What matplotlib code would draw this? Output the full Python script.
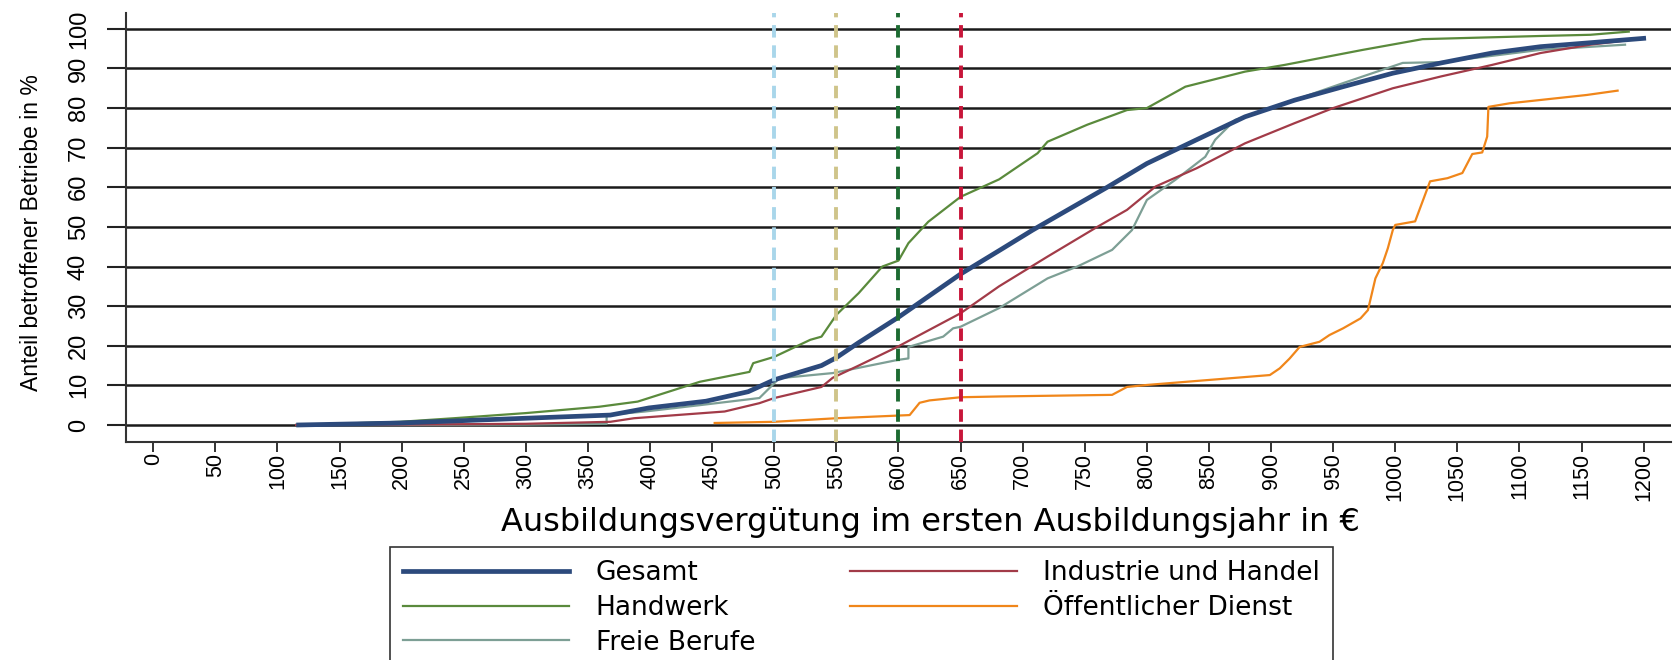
import matplotlib
matplotlib.use("Agg")
import matplotlib.pyplot as plt

# Werte (Ausbildungsvergütung in €, Anteil in %)
gesamt_x = [117, 199, 300, 368, 399, 445, 479, 500, 538, 550, 568, 600, 650, 682, 708, 768, 800, 840, 879, 919, 958, 998, 1037, 1078, 1117, 1157, 1200]
gesamt_y = [0, 0.5, 1.7, 2.5, 4.3, 6.0, 8.4, 11.4, 15.0, 17.0, 20.8, 27.2, 38.1, 44.2, 49.2, 60, 66, 72, 77.8, 82, 85.4, 88.8, 91.4, 93.9, 95.5, 96.5, 97.6]

handwerk_x = [115, 199, 242, 300, 359, 390, 415, 440, 480, 483, 500, 529, 538, 550, 568, 587, 600, 608, 624, 650, 681, 712, 720, 752, 784, 800, 831, 879, 911, 974, 1022, 1117, 1157, 1188]
handwerk_y = [0, 0.8, 1.7, 3, 4.6, 5.9, 8.4, 10.9, 13.4, 15.6, 17.2, 21.5, 22.3, 27.8, 33.3, 40, 41.5, 45.9, 51.3, 57.6, 62, 68.6, 71.5, 75.8, 79.5, 80, 85.4, 89.2, 90.9, 94.7, 97.4, 98.2, 98.5, 99.3]

industrie_x = [115, 199, 300, 368, 387, 460, 488, 500, 538, 547, 568, 599, 650, 681, 720, 760, 784, 807, 840, 879, 919, 950, 998, 1037, 1078, 1117, 1157, 1200]
industrie_y = [0, 0.1, 0.3, 0.8, 1.7, 3.4, 5.5, 6.8, 9.6, 11.9, 15.0, 19.7, 28.2, 35, 42.5, 50, 54.3, 60.2, 64.8, 71.1, 76.2, 80, 85, 88, 90.9, 93.9, 96, 97.6]

freie_x = [115, 199, 300, 365, 365, 396, 440, 488, 497, 504, 547, 599, 608, 608, 636, 644, 650, 681, 720, 744, 772, 788, 800, 823, 847, 855, 871, 903, 958, 1006, 1037, 1117, 1185]
freie_y = [0, 0, 0.1, 0.3, 2.5, 3.4, 5, 6.8, 9.6, 11.8, 13.1, 16.4, 16.8, 19.7, 22.3, 24.4, 24.8, 29.5, 37, 40, 44.2, 49.2, 56.8, 61.9, 67.7, 72, 77, 80.3, 86.3, 91.4, 91.6, 94.7, 96]

oeff_x = [452, 500, 550, 609, 617, 625, 650, 682, 772, 784, 800, 899, 907, 915, 923, 939, 947, 958, 972, 978, 984, 990, 994, 998, 1000, 1016, 1028, 1042, 1054, 1062, 1070, 1074, 1075, 1092, 1154, 1179]
oeff_y = [0.5, 0.8, 1.7, 2.5, 5.6, 6.2, 7.0, 7.2, 7.6, 9.6, 10.1, 12.6, 14.3, 16.8, 19.7, 21, 22.7, 24.4, 26.9, 29, 37, 40.9, 44.6, 49.2, 50.5, 51.4, 61.5, 62.3, 63.6, 68.4, 68.8, 72.8, 80.3, 81.2, 83.3, 84.4]

schwellen = [500, 550, 600, 650]
schwellen_farben = ["#a9d6ea", "#cfc48a", "#1d6b32", "#c8163a"]

x_ticks = list(range(0, 1201, 50))
y_ticks = list(range(0, 101, 10))

narrow = ["Liberation Sans", "DejaVu Sans"]

fig = plt.figure(figsize=(16.73, 6.6), dpi=100)
ax = fig.add_axes([0.0753, 0.3303, 0.9235, 0.65])

ax.set_xlim(-22, 1222)
ax.set_ylim(-4.3, 104)
ax.set_xticks(x_ticks)
ax.set_yticks(y_ticks)
ax.set_xticklabels([str(v) for v in x_ticks], rotation=90, family=narrow, fontsize=15.5)
ax.set_yticklabels([str(v) for v in y_ticks], rotation=90, va="center", family=narrow, fontsize=17)
ax.tick_params(axis="y", length=14, width=1.5, color="#222222", pad=12)
ax.tick_params(axis="x", length=7, width=1.3, color="#222222", pad=1)

for s in ["top", "right"]:
    ax.spines[s].set_visible(False)
ax.spines["left"].set_linewidth(1.5)
ax.spines["bottom"].set_linewidth(1.5)
ax.spines["left"].set_color("#333333")
ax.spines["bottom"].set_color("#333333")

ax.yaxis.grid(True, color="#1a1a1a", linewidth=1.8)
ax.set_axisbelow(True)

ax.plot(gesamt_x, gesamt_y, color="#2c4a7c", lw=3.4, label="Gesamt", zorder=4)
ax.plot(handwerk_x, handwerk_y, color="#5a8a3c", lw=1.6, label="Handwerk", zorder=3)
ax.plot(freie_x, freie_y, color="#7d9f95", lw=1.6, label="Freie Berufe", zorder=3)
ax.plot(industrie_x, industrie_y, color="#a23b48", lw=1.6, label="Industrie und Handel", zorder=3)
ax.plot(oeff_x, oeff_y, color="#f0861a", lw=1.6, label="Öffentlicher Dienst", zorder=3)

for xv, c in zip(schwellen, schwellen_farben):
    ax.axvline(xv, color=c, lw=2.8, dashes=(3.2, 2), zorder=5)

fig.text(32 / 1673, 1 - 233 / 660, "Anteil betroffener Betriebe in %", rotation=90,
         ha="center", va="center", family=narrow, fontsize=16.5)
fig.text(930 / 1673, 1 - 523 / 660, "Ausbildungsvergütung im ersten Ausbildungsjahr in €",
         ha="center", va="center", fontsize=23)

leg = fig.legend(loc="upper left", bbox_to_anchor=(390 / 1673, 1 - 547 / 660), ncol=2,
                 fontsize=19, frameon=True, fancybox=False, edgecolor="black",
                 handlelength=6.3, handletextpad=1.0, columnspacing=3.6,
                 labelspacing=0.33, borderpad=0.5, borderaxespad=0)
leg.get_frame().set_linewidth(1.2)

fig.savefig("out.png", dpi=100)
